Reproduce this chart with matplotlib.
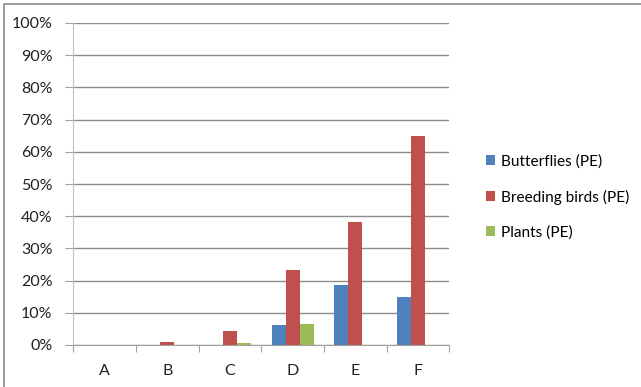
import matplotlib.pyplot as plt
import numpy as np
from matplotlib.patches import Patch, Rectangle
from matplotlib.ticker import FixedLocator, NullFormatter

plt.rcParams["font.family"] = ["Lato", "DejaVu Sans"]

sites = ["A", "B", "C", "D", "E", "F"]
butterflies = [0.0, 0.0, 0.0, 6.2, 18.6, 14.9]
breeding_birds = [0.0, 0.9, 4.4, 23.2, 38.3, 65.0]
plants = [0.0, 0.0, 0.6, 6.5, 0.0, 0.0]

series = [
    ("Butterflies (PE)", butterflies, "#4F81BD"),
    ("Breeding birds (PE)", breeding_birds, "#C0504D"),
    ("Plants (PE)", plants, "#9BBB59"),
]

W, H = 641, 387
fig = plt.figure(figsize=(W / 100, H / 100), dpi=100)

# outer chart frame
fig.patches.append(Rectangle((4 / W, -0.1), 1.2, (H - 4) / H + 0.1,
                             transform=fig.transFigure, fill=False,
                             edgecolor="#8c8c8c", linewidth=1.2))

ax = fig.add_axes([73.3 / W, (H - 345) / H, 376 / W, 322 / H])

x = np.arange(len(sites))
bw = 1 / 4.5
for i, (name, vals, col) in enumerate(series):
    ax.bar(x + (i - 1) * bw, vals, width=bw, color=col, zorder=3)

ax.set_xlim(-0.5, len(sites) - 0.5)
ax.set_ylim(0, 100)
ax.set_yticks(np.arange(0, 101, 10))
ax.set_yticklabels([f"{v}%" for v in range(0, 101, 10)], fontsize=11.5,
                   color="#222222")
ax.yaxis.grid(True, color="#8c8c8c", linewidth=1, zorder=0)

ax.xaxis.set_major_locator(FixedLocator(np.arange(-0.5, len(sites), 1)))
ax.xaxis.set_major_formatter(NullFormatter())
ax.xaxis.set_minor_locator(FixedLocator(x))
ax.set_xticklabels(sites, minor=True, fontsize=11.5, color="#222222")
ax.tick_params(axis="x", which="major", length=5, color="#a0a0a0",
               direction="out")
ax.tick_params(axis="x", which="minor", length=0, pad=14)
ax.tick_params(axis="y", length=6, color="#a0a0a0", pad=9)

for s in ["top", "right"]:
    ax.spines[s].set_visible(False)
ax.spines["left"].set_color("#bfbfbf")
ax.spines["bottom"].set_color("#a0a0a0")
ax.spines["bottom"].set_zorder(4)

handles = [Patch(facecolor=c, edgecolor="none") for _, _, c in series]
fig.legend(handles, [n for n, _, _ in series], loc="center left",
           bbox_to_anchor=(472 / W, 1 - 197 / H), frameon=False,
           fontsize=11.1, handlelength=0.6, handleheight=0.6,
           handletextpad=0.4, labelspacing=1.35)

fig.savefig("out.png", dpi=100)
